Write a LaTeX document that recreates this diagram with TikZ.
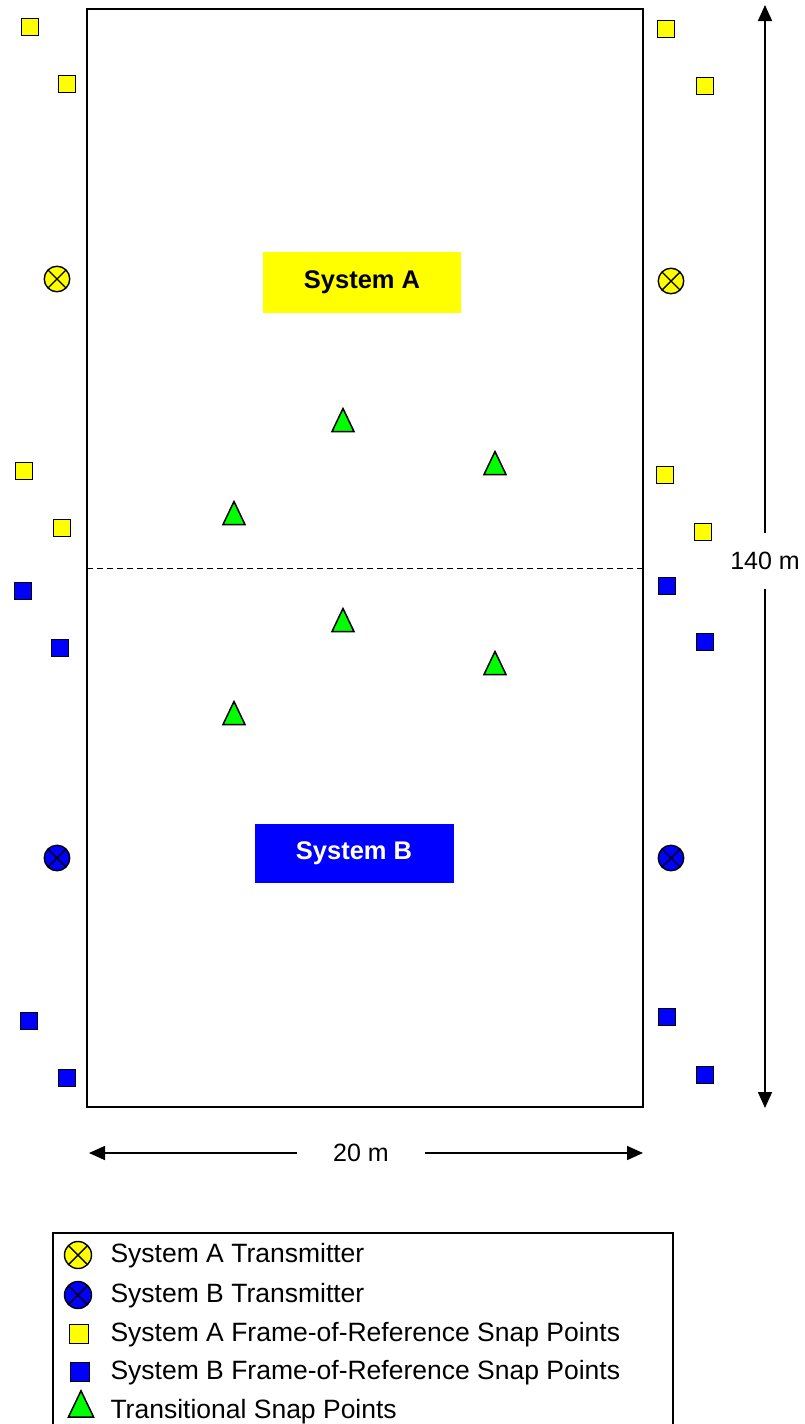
\documentclass[tikz,border=0pt]{standalone}
\usepackage{fontspec}
\setmainfont{Liberation Sans}
\usetikzlibrary{arrows.meta,positioning}

\definecolor{sysA}{RGB}{255,255,0}
\definecolor{sysB}{RGB}{0,0,255}
\definecolor{trans}{RGB}{0,255,0}

\newcommand{\snaptri}[2][1]{\draw[tri] (#2) ++(-11*#1,11.5*#1) -- ++(22*#1,0) -- ++(-11*#1,-23*#1) -- cycle;}

\begin{document}
\begin{tikzpicture}[x=1pt,y=-1pt,
  every node/.style={font=\fontsize{25}{29}\selectfont},
  keytext/.style={anchor=west,font=\fontsize{26.5}{30}\selectfont},
  sqA/.style={draw,line width=1.4pt,fill=sysA,minimum size=16.5pt,inner sep=0pt},
  sqB/.style={sqA,fill=sysB},
  txA/.style={circle,draw,line width=1.4pt,fill=sysA,minimum size=25.5pt,inner sep=0pt,
    path picture={\draw[line width=1.4pt] (path picture bounding box.north west)--(path picture bounding box.south east)
      (path picture bounding box.north east)--(path picture bounding box.south west);}},
  txB/.style={txA,fill=sysB},
  tri/.style={draw,line width=1.5pt,fill=trans,line join=miter},
  dim/.style={line width=1.6pt,-{Triangle[length=16pt,width=14pt]}}]
\useasboundingbox (0,0) rectangle (804,1424);

% field
\draw[line width=1.6pt] (87,9) rectangle (643,1107);
\draw[line width=1pt,dash pattern=on 6pt off 4pt] (87,568) -- (643,568);
\node[fill=sysA,minimum width=198pt,minimum height=61pt,font=\fontsize{25.5}{29}\selectfont\bfseries] (labA) at (362,282) {System A};
\node[fill=sysB,text=white,minimum width=199pt,minimum height=59pt,font=\fontsize{25.5}{29}\selectfont\bfseries] (labB) at (354,853) {System B};

% frame-of-reference snap points
\foreach \p in {(30,27),(67,84),(24,471),(62,528),(666,29),(705,86),(665,475),(703,532)}
  \node[sqA] at \p {};
\foreach \p in {(23,591),(60,648),(29,1021),(67,1078),(667,586),(705,642),(667,1017),(705,1075)}
  \node[sqB] at \p {};

% transmitters
\node[txA] (tA1) at (57,279) {};
\node[txA] (tA2) at (671,281) {};
\node[txB] (tB1) at (57,858) {};
\node[txB] (tB2) at (671,858) {};

% transitional snap points
\foreach \p in {{343,420},{495,463},{234,513},{343,620},{495,663},{234,713}}
  {\snaptri{\p}}

% dimensions
\coordinate (vtop) at (765,5);
\coordinate (vbot) at (765,1108);
\node[inner xsep=0pt,inner ysep=19pt] (len) at (765,561) {140 m};
\draw[dim] (len) -- (vtop);
\draw[dim] (len) -- (vbot);
\coordinate (hleft) at (89,1153);
\coordinate (hright) at (643,1153);
\node[inner xsep=36pt,inner ysep=2pt] (wid) at (361,1153) {20 m};
\draw[dim] (wid) -- (hleft);
\draw[dim] (wid) -- (hright);

% legend
\draw[line width=1.4pt] (53,1233) rectangle (673,1450);
\node[txA,minimum size=27pt] (kA) at (78,1255) {};
\node[txB,minimum size=27pt] (kB) at (78,1295) {};
\node[sqA,minimum size=19pt] (kqA) at (79,1334) {};
\node[sqB,minimum size=19pt] (kqB) at (80,1372) {};
\snaptri[1.15]{81,1404}
\node[keytext] at (107,1256) {System A Transmitter};
\node[keytext] at (107,1296) {System B Transmitter};
\node[keytext] at (107,1335) {System A Frame-of-Reference Snap Points};
\node[keytext] at (107,1373) {System B Frame-of-Reference Snap Points};
\node[keytext] at (107,1412) {Transitional Snap Points};
\end{tikzpicture}
\end{document}
